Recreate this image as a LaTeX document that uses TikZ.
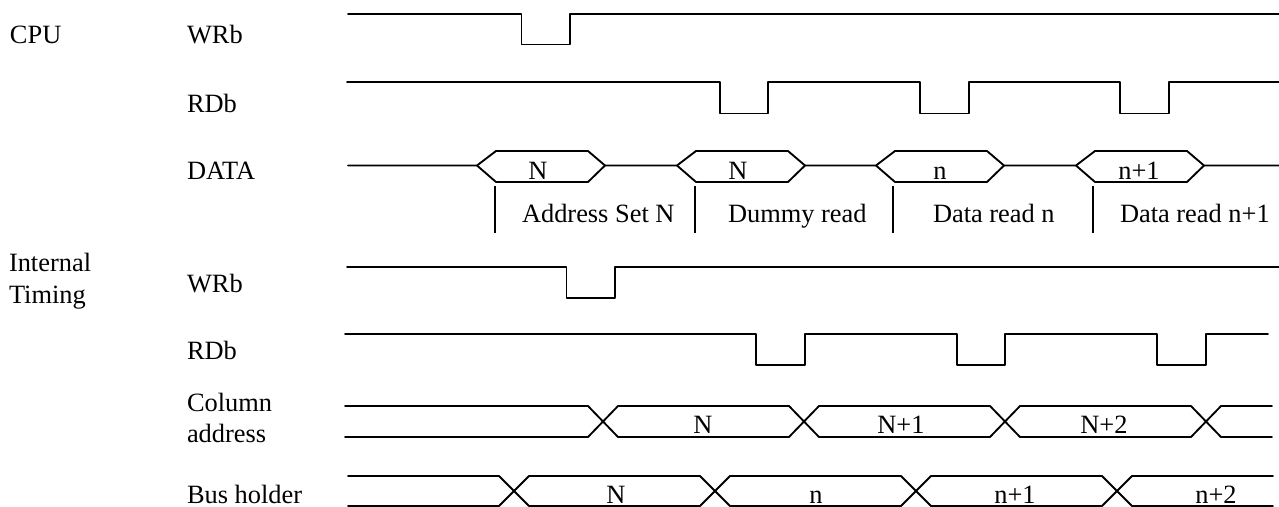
\documentclass[tikz,border=0pt]{standalone}
\usepackage{fontspec}
\setmainfont{Liberation Serif}
\tikzset{
  wave/.style={line width=1.4pt,line cap=round,line join=round,black},
  tick/.style={line width=1.2pt,black},
  lab/.style={inner sep=0pt,outer sep=0pt,anchor=base west,font=\fontsize{19.8pt}{23pt}\selectfont},
  clab/.style={lab,anchor=base}
}
\begin{document}
\begin{tikzpicture}[x=0.75pt,y=-0.75pt]
\useasboundingbox (0,0) rectangle (1279,507);
% row labels
\node[lab] (cpu) at (10,43) {CPU};
\node[lab] (wr1) at (187,43) {WRb};
\node[lab] (rd1) at (187,112) {RDb};
\node[lab] (dat) at (187,179) {DATA};
\node[lab] (int1) at (9,271) {Internal};
\node[lab] (int2) at (9,303) {Timing};
\node[lab] (wr2) at (187,292) {WRb};
\node[lab] (rd2) at (187,359) {RDb};
\node[lab] (col1) at (187,411) {Column};
\node[lab] (col2) at (187,442) {address};
\node[lab] (bus) at (187,503) {Bus holder};
% CPU WRb
\draw[wave] (348,14) -- (521.5,14) -- (521.5,44.5) -- (570,44.5) -- (570,14) -- (1279,14);
% CPU RDb
\draw[wave] (347,82) -- (720,82) -- (720,113.5) -- (768,113.5) -- (768,82)
  -- (920,82) -- (920,113.5) -- (969,113.5) -- (969,82)
  -- (1120,82) -- (1120,113.5) -- (1169,113.5) -- (1169,82) -- (1279,82);
% DATA
\draw[wave] (348,165.5) -- (477,165.5) -- (496,151) -- (588,151) -- (605,165.5)
  -- (677,165.5) -- (696,151) -- (788,151) -- (805,165.5)
  -- (876,165.5) -- (895,151) -- (987,151) -- (1004,165.5)
  -- (1076,165.5) -- (1095,151) -- (1187,151) -- (1204,165.5) -- (1279,165.5);
\draw[wave] (477,165.5) -- (496,182) -- (588,182) -- (605,165.5);
\draw[wave] (677,165.5) -- (696,182) -- (788,182) -- (805,165.5);
\draw[wave] (876,165.5) -- (895,182) -- (987,182) -- (1004,165.5);
\draw[wave] (1076,165.5) -- (1095,182) -- (1187,182) -- (1204,165.5);
\node[clab] (d1) at (538,179) {N};
\node[clab] (d2) at (738,179) {N};
\node[clab] (d3) at (940,179) {n};
\node[clab] (d4) at (1139,179) {n+1};
% phase ticks
\foreach \tx in {495,695,893,1093} \draw[tick] (\tx,186) -- (\tx,233);
\node[lab] (p1) at (522,222) {Address Set N};
\node[lab] (p2) at (728,222) {Dummy read};
\node[lab] (p3) at (933,222) {Data read n};
\node[lab] (p4) at (1120,222) {Data read n+1};
% Internal WRb
\draw[wave] (347,267) -- (566.5,267) -- (566.5,298) -- (615,298) -- (615,267) -- (1279,267);
% Internal RDb
\draw[wave] (345,334) -- (756,334) -- (756,365) -- (805,365) -- (805,334)
  -- (957,334) -- (957,365) -- (1005,365) -- (1005,334)
  -- (1157,334) -- (1157,365) -- (1206,365) -- (1206,334) -- (1268,334);
% Column address
\draw[wave] (345,406) -- (588,406) -- (618,437) -- (789,437) -- (819,406) -- (990,406) -- (1020,437) -- (1191,437) -- (1221,406) -- (1272,406);
\draw[wave] (345,437) -- (588,437) -- (618,406) -- (789,406) -- (819,437) -- (990,437) -- (1020,406) -- (1191,406) -- (1221,437) -- (1272,437);
\node[clab] (c1) at (703,433) {N};
\node[clab] (c2) at (901,433) {N+1};
\node[clab] (c3) at (1104,433) {N+2};
% Bus holder
\draw[wave] (348,476) -- (499,476) -- (529,506) -- (700,506) -- (730,476) -- (901,476) -- (931,506) -- (1102,506) -- (1132,476) -- (1273,476);
\draw[wave] (348,506) -- (499,506) -- (529,476) -- (700,476) -- (730,506) -- (901,506) -- (931,476) -- (1102,476) -- (1132,506) -- (1273,506);
\node[clab] (b1) at (616,503) {N};
\node[clab] (b2) at (816,503) {n};
\node[clab] (b3) at (1015,503) {n+1};
\node[clab] (b4) at (1216,503) {n+2};
\end{tikzpicture}
\end{document}
